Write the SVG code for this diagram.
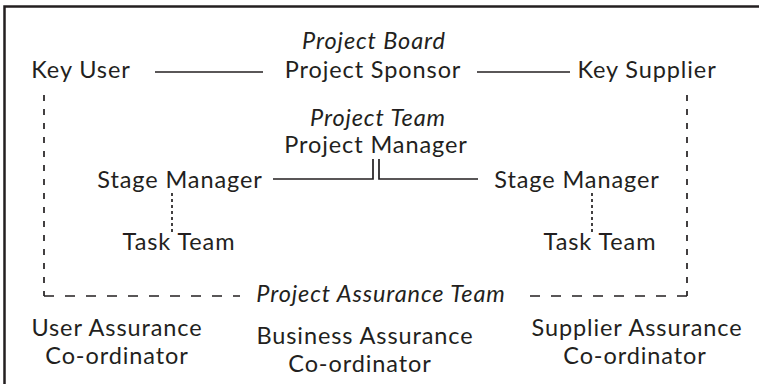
<svg xmlns="http://www.w3.org/2000/svg" width="759" height="384" viewBox="0 0 759 384">
  <style>
    text { font-family: Lato, "Open Sans", "Liberation Sans", sans-serif; font-size: 23.5px; letter-spacing: 0.9px; fill: #231f20; text-anchor: middle; }
    .it { font-style: italic; }
    .solid { stroke: #231f20; stroke-width: 1.7; fill: none; }
    .vdash { stroke: #231f20; stroke-width: 1.7; fill: none; stroke-dasharray: 6 8; }
    .hdash { stroke: #231f20; stroke-width: 1.7; fill: none; stroke-dasharray: 10 11; }
    .dot { stroke: #231f20; stroke-width: 1.7; fill: none; stroke-dasharray: 3 3; }
  </style>
  <rect width="759" height="384" fill="#ffffff"/>
  <!-- outer frame, open at right and bottom -->
  <rect x="4.5" y="6.5" width="800" height="400" fill="none" stroke="#231f20" stroke-width="2.5"/>

  <g id="connectors">
    <line class="solid" x1="155" y1="72" x2="263" y2="72"/>
    <line class="solid" x1="477" y1="72" x2="570" y2="72"/>
    <polyline class="solid" points="273,179 373,179 373,159"/>
    <polyline class="solid" points="379,159 379,179 478,179"/>
    <line class="dot" x1="172" y1="193" x2="172" y2="233"/>
    <line class="dot" x1="592" y1="193" x2="592" y2="233"/>
    <line class="vdash" x1="44" y1="95" x2="44" y2="296"/>
    <line class="vdash" x1="687" y1="95" x2="687" y2="296"/>
    <line class="hdash" x1="44" y1="296" x2="240" y2="296"/>
    <line class="hdash" x1="687" y1="296" x2="522" y2="296"/>
  </g>

  <g id="project-board">
    <text class="it" x="374" y="49">Project Board</text>
  </g>
  <g id="key-user">
    <text x="81" y="78">Key User</text>
  </g>
  <g id="project-sponsor">
    <text x="373" y="78">Project Sponsor</text>
  </g>
  <g id="key-supplier">
    <text x="647" y="78">Key Supplier</text>
  </g>
  <g id="project-team">
    <text class="it" x="378" y="126">Project Team</text>
  </g>
  <g id="project-manager">
    <text x="376" y="153">Project Manager</text>
  </g>
  <g id="stage-manager-left">
    <text x="180" y="188">Stage Manager</text>
  </g>
  <g id="stage-manager-right">
    <text x="577" y="188">Stage Manager</text>
  </g>
  <g id="task-team-left">
    <text x="179" y="250">Task Team</text>
  </g>
  <g id="task-team-right">
    <text x="600" y="250">Task Team</text>
  </g>
  <g id="project-assurance-team">
    <text class="it" x="381" y="302">Project Assurance Team</text>
  </g>
  <g id="user-assurance">
    <text x="117" y="336">User Assurance</text>
    <text x="117" y="364">Co-ordinator</text>
  </g>
  <g id="business-assurance">
    <text x="365" y="344">Business Assurance</text>
    <text x="360" y="372">Co-ordinator</text>
  </g>
  <g id="supplier-assurance">
    <text x="637" y="336">Supplier Assurance</text>
    <text x="635" y="364">Co-ordinator</text>
  </g>
</svg>
